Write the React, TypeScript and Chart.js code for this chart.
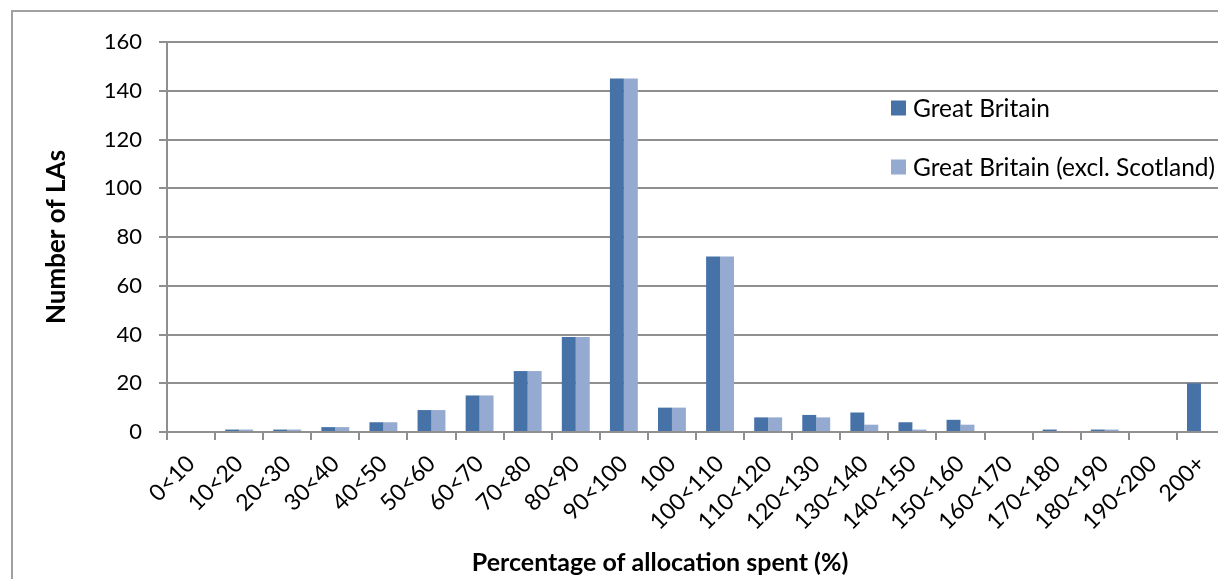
import React, { useEffect, useRef } from "react";
import { Chart, registerables } from "chart.js";

Chart.register(...registerables);

const categories = [
  "0<10", "10<20", "20<30", "30<40", "40<50", "50<60", "60<70", "70<80", "80<90", "90<100",
  "100", "100<110", "110<120", "120<130", "130<140", "140<150", "150<160", "160<170",
  "170<180", "180<190", "190<200", "200+",
];
const greatBritain = [0, 1, 1, 2, 4, 9, 15, 25, 39, 145, 10, 72, 6, 7, 8, 4, 5, 0, 1, 1, 0, 20];
const greatBritainExclScotland = [0, 1, 1, 2, 4, 9, 15, 25, 39, 145, 10, 72, 6, 6, 3, 1, 3, 0, 0, 1, 0, 0];
const seriesLabels = ["Great Britain", "Great Britain (excl. Scotland)"];
const seriesColors = ["#4672A8", "#94AAD0"];
const yMin = 0;
const yMax = 160;
const yStep = 20;
const xTitle = "Percentage of allocation spent (%)";
const yTitle = "Number of LAs";

const FONT = "Lato, 'Open Sans', sans-serif";
const GRID = "#8f8f8f";

const insideLegend = {
  id: "insideLegend",
  afterDraw(chart: any) {
    const { ctx, chartArea } = chart;
    ctx.save();
    ctx.font = `24.5px ${FONT}`;
    ctx.textBaseline = "middle";
    ctx.textAlign = "left";
    chart.data.datasets.forEach((ds: any, i: number) => {
      const x = chartArea.left + 724;
      const y = chartArea.top + 66 + i * 59;
      ctx.fillStyle = ds.backgroundColor;
      ctx.fillRect(x, y - 7.5, 15, 15);
      ctx.fillStyle = "#000";
      ctx.fillText(ds.label, x + 22, y + 1);
    });
    ctx.restore();
  },
};

export default function App() {
  const ref = useRef<HTMLCanvasElement | null>(null);

  useEffect(() => {
    if (!ref.current) return;
    const chart = new Chart(ref.current, {
      type: "bar",
      data: {
        labels: categories,
        datasets: [
          {
            label: seriesLabels[0],
            data: greatBritain,
            backgroundColor: seriesColors[0],
            categoryPercentage: 0.58,
            barPercentage: 1,
          },
          {
            label: seriesLabels[1],
            data: greatBritainExclScotland,
            backgroundColor: seriesColors[1],
            categoryPercentage: 0.58,
            barPercentage: 1,
          },
        ],
      },
      options: {
        responsive: false,
        animation: false,
        layout: { padding: { left: 95, right: 35, top: 42, bottom: 22 } },
        plugins: {
          legend: { display: false },
          tooltip: { enabled: false },
          title: {
            display: true,
            position: "bottom",
            text: xTitle,
            color: "#000",
            font: { family: FONT, size: 25, weight: "bold" },
            padding: { top: 0, bottom: 0 },
            fullSize: true,
          },
        },
        scales: {
          x: {
            offset: true,
            grid: {
              offset: true,
              drawOnChartArea: false,
              drawTicks: true,
              tickLength: 8,
              color: GRID,
              lineWidth: 2,
            },
            border: { color: GRID, width: 2 },
            ticks: {
              minRotation: 45,
              maxRotation: 45,
              autoSkip: false,
              color: "#000",
              font: { family: FONT, size: 23 },
              padding: 10,
            },
            afterFit: (s: any) => {
              s.height = 116;
            },
          },
          y: {
            min: yMin,
            max: yMax,
            ticks: {
              stepSize: yStep,
              color: "#000",
              font: { family: FONT, size: 22 },
              padding: 17,
            },
            grid: { color: GRID, lineWidth: 2, tickLength: 8 },
            border: { color: GRID, width: 2 },
            title: {
              display: true,
              text: yTitle,
              color: "#000",
              font: { family: FONT, size: 26, weight: "bold" },
              padding: { top: -53.6, bottom: 0 },
            },
            afterFit: (s: any) => {
              s.width = 72;
            },
          },
        },
      },
      plugins: [insideLegend],
    });
    return () => chart.destroy();
  }, []);

  return (
    <div
      style={{
        position: "fixed",
        left: 0,
        top: 0,
        width: "100vw",
        height: "100vh",
        overflow: "hidden",
        background: "#fff",
      }}
    >
      <div
        style={{
          position: "absolute",
          left: 11,
          top: 10,
          width: 1400,
          height: 800,
          border: "2px solid #a0a0a0",
        }}
      />
      <canvas
        ref={ref}
        width={1260}
        height={600}
        style={{ position: "absolute", left: 0, top: 0 }}
      />
    </div>
  );
}
